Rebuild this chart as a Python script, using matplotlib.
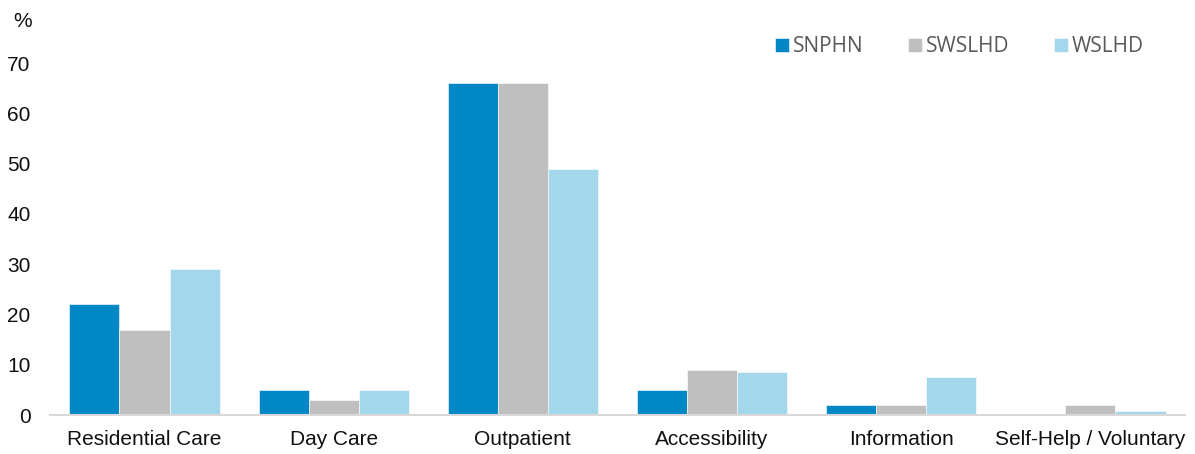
import matplotlib.pyplot as plt
import numpy as np

categories = ['Residential Care', 'Day Care', 'Outpatient', 'Accessibility',
              'Information', 'Self-Help / Voluntary']
snphn = [22, 5, 66, 5, 2, 0]
swslhd = [17, 3, 66, 9, 2, 2]
wslhd = [29, 5, 49, 8.5, 7.5, 0.8]
series_names = ['SNPHN', 'SWSLHD', 'WSLHD']
y_ticks = [0, 10, 20, 30, 40, 50, 60, 70]

colors = ['#0088C6', '#BFBFBF', '#A3D7EB']

fig = plt.figure(figsize=(11.95, 4.54), dpi=100)
ax = fig.add_axes([0.0418, 0.0859, 0.9498, 0.7753])

x = np.arange(len(categories))
w = 0.265
bars = []
for i, (vals, c) in enumerate(zip([snphn, swslhd, wslhd], colors)):
    b = ax.bar(x + (i - 1) * w, vals, w, color=c, label=series_names[i],
               edgecolor='white', linewidth=0.4)
    bars.append(b)

ax.set_xlim(-0.5, len(categories) - 0.5)
ax.set_ylim(0, 70)
ax.set_yticks(y_ticks)
ax.set_xticks(x)
ax.set_xticklabels(categories)

for s in ['top', 'right', 'left']:
    ax.spines[s].set_visible(False)
ax.spines['bottom'].set_color('#D9D9D9')
ax.spines['bottom'].set_linewidth(1.5)
ax.tick_params(axis='both', length=0, labelsize=15, labelcolor='#111111')
ax.tick_params(axis='y', pad=14)
ax.tick_params(axis='x', pad=11)
for lab in ax.get_xticklabels() + ax.get_yticklabels():
    lab.set_fontfamily('Liberation Sans')

fig.text(0.011, 0.953, '%', fontsize=15, fontfamily='Liberation Sans',
         color='#111111', va='center', ha='left')

leg = fig.legend(handles=bars, loc='center left', bbox_to_anchor=(0.633, 0.897),
                 ncol=3, frameon=False, handlelength=0.65, handleheight=0.65,
                 handletextpad=0.2, columnspacing=2.15,
                 prop={'family': 'Open Sans', 'size': 15})
for t in leg.get_texts():
    t.set_color('#595959')

fig.savefig('out.png', dpi=100)
